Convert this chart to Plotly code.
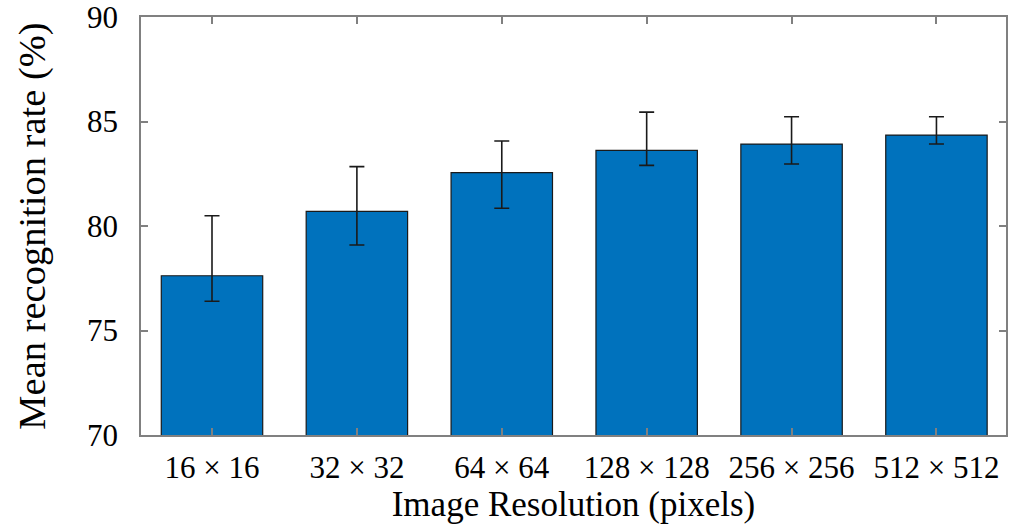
import plotly.graph_objects as go

categories = ["16 × 16", "32 × 32", "64 × 64", "128 × 128", "256 × 256", "512 × 512"]
mean_rate = [77.62, 80.70, 82.55, 83.62, 83.92, 84.35]
err_upper = [80.49, 82.84, 84.07, 85.45, 85.23, 85.23]
err_lower = [76.40, 79.09, 80.85, 82.90, 82.97, 83.92]
y_ticks = [70, 75, 80, 85, 90]

x_pos = list(range(len(categories)))
err_plus = [u - m for u, m in zip(err_upper, mean_rate)]
err_minus = [m - l for m, l in zip(mean_rate, err_lower)]

FONT = "Liberation Serif"
AXIS_COLOR = "#808080"

fig = go.Figure()
fig.add_trace(go.Bar(
    x=x_pos,
    y=mean_rate,
    width=0.7,
    marker=dict(color="#0072BD", line=dict(color="#1a1a1a", width=1.2)),
    error_y=dict(type="data", symmetric=False, array=err_plus, arrayminus=err_minus,
                 color="#1a1a1a", thickness=1.6, width=7.5),
    showlegend=False,
))

fig.update_layout(
    width=1015, height=528,
    margin=dict(l=141, r=9, t=17, b=93),
    paper_bgcolor="white", plot_bgcolor="white",
    font=dict(family=FONT, color="black", size=31),
    bargap=0.3,
)

fig.update_xaxes(
    range=[-0.49, 5.48],
    tickmode="array", tickvals=x_pos, ticktext=categories,
    ticks="inside", ticklen=7, tickwidth=1.5, tickcolor=AXIS_COLOR,
    showline=True, linecolor=AXIS_COLOR, linewidth=1.5, mirror="ticks",
    showgrid=False, zeroline=False, automargin=False,
    tickfont=dict(family=FONT, size=31, color="black"),
    ticklabelstandoff=4,
    title=dict(text="Image Resolution (pixels)", font=dict(family=FONT, size=35, color="black"), standoff=2),
)
fig.update_yaxes(
    range=[70, 90],
    tickmode="array", tickvals=y_ticks,
    ticks="inside", ticklen=7, tickwidth=1.5, tickcolor=AXIS_COLOR,
    showline=True, linecolor=AXIS_COLOR, linewidth=1.5, mirror="ticks",
    showgrid=False, zeroline=False, automargin=False,
    ticklabeloverflow="allow",
    tickfont=dict(family=FONT, size=31, color="black"),
    ticklabelstandoff=15,
    title=dict(text="Mean recognition rate (%)", font=dict(family=FONT, size=38.5, color="black"), standoff=30),
)

fig.write_html("out.html")
